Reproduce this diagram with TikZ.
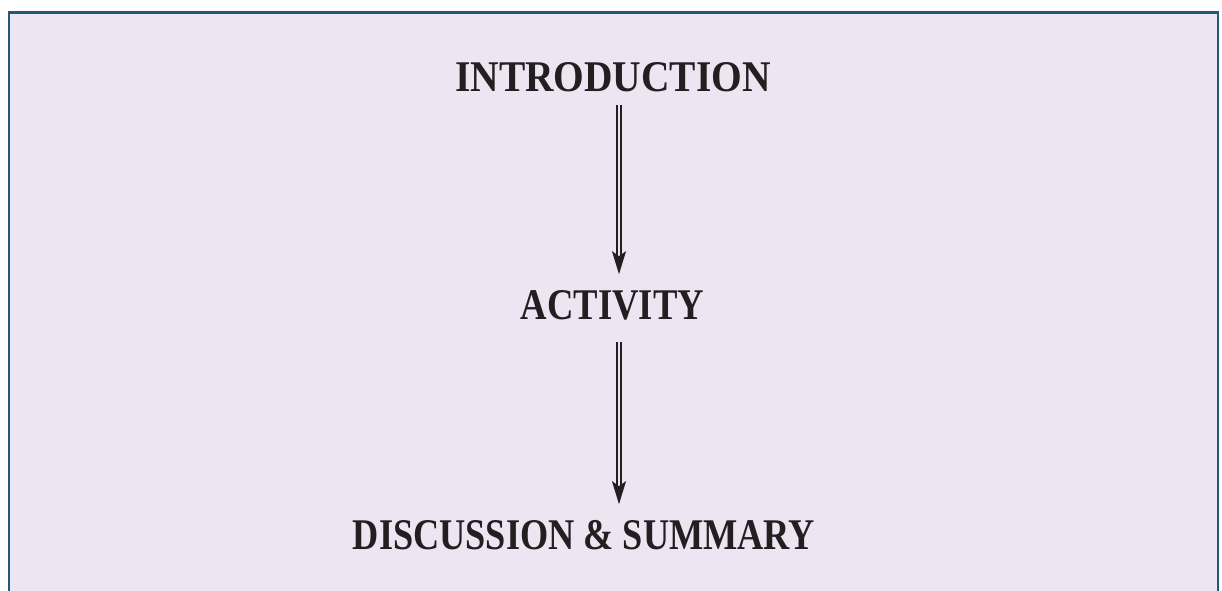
\documentclass[tikz,border=0pt]{standalone}
\usepackage{fontspec}
\usepackage{graphicx}
\usetikzlibrary{arrows.meta}
\newfontfamily\labfont{Liberation Serif}[UprightFont=* Bold, FakeStretch=0.9]
\definecolor{bgfill}{HTML}{EDE5F2}
\definecolor{frameblue}{HTML}{245877}
\definecolor{inkblack}{HTML}{231F20}
\begin{document}
\begin{tikzpicture}[x=0.5pt,y=-0.5pt,
  lab/.style={font=\labfont\fontsize{21.9}{26}\selectfont, text=inkblack,
    inner sep=0pt, text height=14.5pt, text depth=0pt, anchor=south},
  flow/.style={draw=inkblack, line width=0.8pt, double=bgfill, double distance=1.2pt,
    -{Stealth[length=11.5pt,width=7pt,inset=2.5pt]}}]
\useasboundingbox (0,0) rectangle (1222,590);
\path[fill=bgfill] (9,12.5) rectangle (1218,600);
\draw[frameblue, line width=1.4pt] (9,600) -- (9,12.5) -- (1218,12.5) -- (1218,600);
\coordinate (col) at (619,0);
\node[lab] (intro) at (613,92) {INTRODUCTION};
\node[lab] (act) at (612.5,320) {\scalebox{0.93}[1]{ACTIVITY}};
\node[lab] (disc) at (584,550) {\scalebox{0.92}[1]{DISCUSSION \& SUMMARY}};
\draw[flow, shorten <=6.5pt, shorten >=8pt] (intro.south -| col) -- (act.north -| col);
\draw[flow, shorten <=11pt, shorten >=8pt] (act.south -| col) -- (disc.north -| col);
\end{tikzpicture}
\end{document}
